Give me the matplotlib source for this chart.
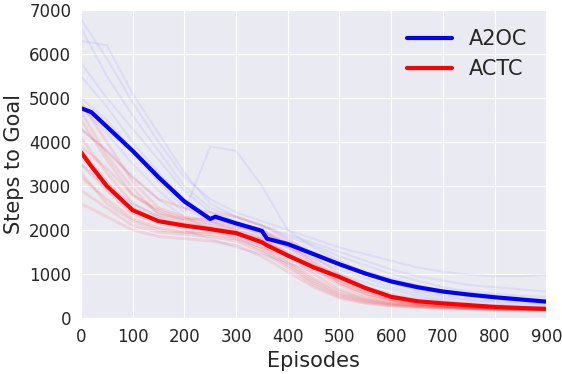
import matplotlib
matplotlib.use('Agg')
import matplotlib.pyplot as plt
import seaborn as sns

episodes = [0, 50, 100, 150, 200, 250, 300, 350, 400, 450,
            500, 550, 600, 650, 700, 750, 800, 850, 900]

# mean curves
mean_x = [0, 20, 50, 100, 150, 200, 250, 260, 300, 350, 360, 400,
          450, 500, 550, 600, 650, 700, 750, 800, 850, 900]
a2oc_mean = [4770, 4680, 4350, 3800, 3200, 2650, 2250, 2300, 2150, 1980, 1800, 1680,
             1450, 1220, 1010, 830, 700, 600, 530, 470, 420, 370]
actc_mean = [3770, 3450, 3000, 2450, 2200, 2100, 2020, 2000, 1930, 1720, 1650, 1420,
             1150, 930, 680, 480, 380, 330, 290, 250, 225, 205]

# individual runs (faint)
a2oc_runs = [
    [6800, 5900, 4900, 4000, 3200, 2700, 2400, 2200, 2000, 1800, 1600, 1450, 1300, 1150, 1050, 980, 950, 950, 980],
    [6300, 6200, 5100, 4200, 3300, 2600, 2300, 2100, 1900, 1700, 1500, 1300, 1100, 950, 850, 750, 700, 650, 600],
    [5800, 5000, 4300, 3600, 2900, 2400, 2200, 2000, 1750, 1500, 1250, 1050, 900, 750, 600, 500, 450, 400, 380],
    [5000, 4500, 3800, 3100, 2500, 2200, 2000, 1850, 1600, 1350, 1100, 900, 700, 550, 450, 400, 350, 320, 300],
    [4300, 3800, 3200, 2700, 2300, 2000, 1800, 1600, 1400, 1200, 1000, 800, 650, 500, 400, 350, 300, 280, 260],
    [3500, 3000, 2600, 2300, 2000, 1800, 1600, 1450, 1250, 1050, 850, 700, 550, 450, 380, 320, 280, 260, 250],
    [4800, 4200, 3500, 2900, 2400, 3900, 3800, 3000, 2000, 1600, 1300, 1000, 800, 600, 500, 420, 380, 350, 330],
    [5500, 4800, 4000, 3300, 2700, 2300, 2100, 1950, 1700, 1450, 1200, 1000, 800, 650, 550, 480, 420, 380, 350],
    [6600, 5500, 4600, 3800, 3000, 2500, 2300, 2100, 1850, 1650, 1400, 1200, 1000, 850, 700, 600, 550, 500, 480],
]
actc_runs = [
    [4900, 4000, 3100, 2500, 2300, 2200, 2100, 1900, 1600, 1200, 850, 600, 450, 350, 300, 260, 230, 210, 200],
    [4500, 3600, 2800, 2400, 2200, 2100, 2000, 1800, 1450, 1100, 750, 500, 380, 310, 270, 240, 220, 210, 200],
    [4100, 3300, 2600, 2300, 2150, 2050, 1950, 1750, 1400, 1000, 650, 450, 350, 290, 250, 230, 210, 200, 190],
    [3800, 3100, 2500, 2200, 2100, 2000, 1900, 1650, 1300, 900, 600, 420, 330, 280, 250, 220, 200, 190, 185],
    [3500, 2900, 2350, 2150, 2050, 2000, 1850, 1600, 1250, 850, 550, 400, 320, 270, 240, 220, 200, 190, 180],
    [3200, 2700, 2250, 2050, 1950, 1900, 1800, 1550, 1200, 800, 520, 380, 300, 260, 230, 210, 195, 185, 180],
    [2900, 2500, 2100, 1950, 1900, 1850, 1750, 1500, 1150, 750, 480, 350, 280, 250, 230, 210, 195, 185, 180],
    [2600, 2300, 2000, 1850, 1800, 1750, 1650, 1400, 1050, 700, 450, 330, 270, 240, 220, 205, 190, 180, 175],
    [4300, 3800, 3200, 2700, 2500, 2400, 2300, 2100, 1800, 1400, 1000, 700, 500, 380, 320, 280, 250, 230, 220],
    [3300, 2600, 2200, 2000, 1950, 1950, 1900, 1800, 1500, 1150, 800, 550, 400, 320, 280, 250, 230, 215, 205],
    [3900, 3400, 2800, 2450, 2250, 2150, 2050, 1950, 1700, 1300, 900, 620, 420, 330, 280, 250, 225, 210, 200],
    [4700, 3700, 2950, 2350, 2250, 2250, 2150, 2000, 1650, 1250, 800, 560, 410, 320, 270, 240, 215, 200, 195],
]

sns.set_style('darkgrid')
plt.rcParams['font.family'] = ['DejaVu Sans']

fig = plt.figure(figsize=(5.62, 3.74), dpi=100)
ax = fig.add_axes([0.144, 0.150, 0.828, 0.823])

for run in a2oc_runs:
    ax.plot(episodes, run, color='blue', alpha=0.06, lw=1.5)
for run in actc_runs:
    ax.plot(episodes, run, color='red', alpha=0.1, lw=2)

ax.plot(mean_x, a2oc_mean, color='blue', lw=3, label='A2OC')
ax.plot(mean_x, actc_mean, color='red', lw=3, label='ACTC')

ax.set_xlim(0, 900)
ax.set_ylim(0, 7000)
ax.set_xticks(range(0, 901, 100))
ax.set_yticks(range(0, 7001, 1000))
ax.tick_params(labelsize=12, colors='.15')
ax.set_xlabel('Episodes', fontsize=15, color='.15')
ax.set_ylabel('Steps to Goal', fontsize=15, color='.15')
ax.legend(loc='upper right', fontsize=15, frameon=False, handlelength=2.2)

fig.savefig('out.png', dpi=100)
